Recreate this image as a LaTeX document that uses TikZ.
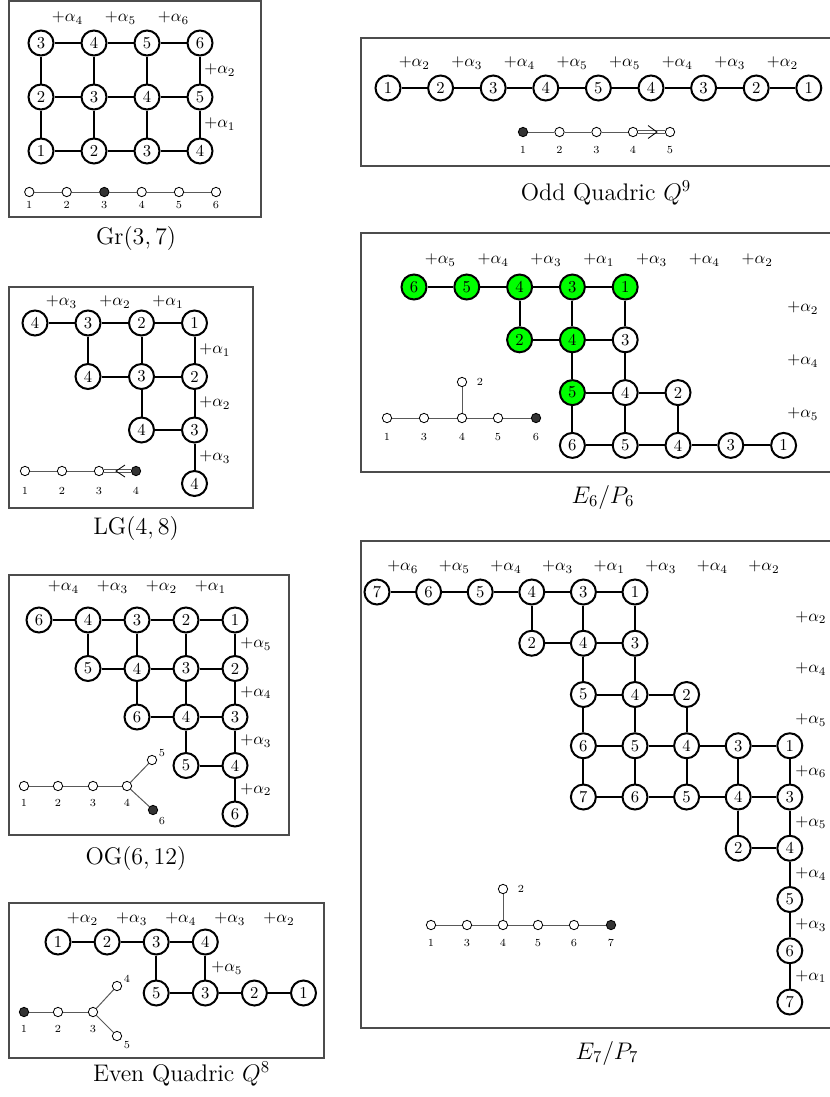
\documentclass[tikz,border=0pt]{standalone}
\usepackage{amsmath}
\begin{document}
\begin{tikzpicture}[x=0.6pt,y=-0.6pt,
 v/.style={circle,draw,line width=1.2pt,minimum size=15pt,inner sep=0pt,fill=white,font=\normalsize},
 vg/.style={v,fill=green},
 ed/.style={line width=1.2pt},
 al/.style={inner sep=0pt,font=\normalsize},
 ral/.style={al,anchor=west},
 dn/.style={circle,draw,line width=0.5pt,minimum size=5.6pt,inner sep=0pt,fill=white},
 dnf/.style={dn,fill=black!80},
 de/.style={line width=0.6pt,draw=black!65},
 dl/.style={inner sep=0pt,font=\fontsize{6.5}{8}\selectfont},
 panelframe/.style={draw=black!70,line width=0.8pt},
 captxt/.style={font=\Large}]
\useasboundingbox (0,0) rectangle (830,1097);
\clip (0,0) rectangle (830,1097);

% ================= Gr(3,7)
\draw[panelframe] (9,1) rectangle (261,217);
\foreach \n/\x/\y/\t in {g11/41/43/3,g12/94/43/4,g13/147/43/5,g14/200/43/6,
  g21/41/97/2,g22/94/97/3,g23/147/97/4,g24/200/97/5,
  g31/41/151/1,g32/94/151/2,g33/147/151/3,g34/200/151/4}
  \node[v] (\n) at (\x,\y) {\t};
\foreach \a/\b in {g11/g12,g12/g13,g13/g14,g21/g22,g22/g23,g23/g24,g31/g32,g32/g33,g33/g34,
  g11/g21,g21/g31,g12/g22,g22/g32,g13/g23,g23/g33,g14/g24,g24/g34}
  \draw[ed] (\a) -- (\b);
\node[al] (ga4) at (67.5,18) {$+\alpha_4$};
\node[al] (ga5) at (120.5,18) {$+\alpha_5$};
\node[al] (ga6) at (173.5,18) {$+\alpha_6$};
\node[ral] (gr2) at (204,70) {$+\alpha_2$};
\node[ral] (gr1) at (204,124) {$+\alpha_1$};
\foreach \n/\x in {1/29.3,2/66.7,3/104.3,4/141.7,5/179,6/216}
  \node[dl] (gl\n) at (\x,205) {\n};
\foreach \n/\x in {1/29.3,2/66.7,4/141.7,5/179,6/216}
  \node[dn] (gd\n) at (\x,192) {};
\node[dnf] (gd3) at (104.3,192) {};
\foreach \a/\b in {1/2,2/3,3/4,4/5,5/6} \draw[de] (gd\a) -- (gd\b);
\node[captxt] (cgr) at (136,238) {$\mathrm{Gr}(3,7)$};

% ================= LG(4,8)
\draw[panelframe] (9,287) rectangle (253,508);
\foreach \n/\x/\y/\t in {l11/35/323/4,l12/88/323/3,l13/141.5/323/2,l14/194.5/323/1,
  l22/88/376.5/4,l23/141.5/376.5/3,l24/194.5/376.5/2,
  l33/141.5/430/4,l34/194.5/430/3,l44/194.5/483.5/4}
  \node[v] (\n) at (\x,\y) {\t};
\foreach \a/\b in {l11/l12,l12/l13,l13/l14,l22/l23,l23/l24,l33/l34,
  l12/l22,l13/l23,l14/l24,l23/l33,l24/l34,l34/l44}
  \draw[ed] (\a) -- (\b);
\node[al] (la3) at (61.5,302) {$+\alpha_3$};
\node[al] (la2) at (115,302) {$+\alpha_2$};
\node[al] (la1) at (168,302) {$+\alpha_1$};
\node[ral] (lr1) at (199,350) {$+\alpha_1$};
\node[ral] (lr2) at (199,403) {$+\alpha_2$};
\node[ral] (lr3) at (199,457) {$+\alpha_3$};
\foreach \n/\x in {1/25,2/62,3/99,4/136}
  \node[dl] (ll\n) at (\x,491) {\n};
\foreach \n/\x in {1/25,2/62,3/99}
  \node[dn] (ld\n) at (\x,471) {};
\node[dnf] (ld4) at (136,471) {};
\draw[de] (ld1) -- (ld2);
\draw[de] (ld2) -- (ld3);
\draw[de,double,double distance=1.2pt] (ld3) -- (ld4);
\draw[line width=0.5pt] (125,465) -- (116,471) -- (125,477);
\node[captxt] (clg) at (136,528) {$\mathrm{LG}(4,8)$};

% ================= OG(6,12)
\draw[panelframe] (9,575) rectangle (289,835);
\foreach \n/\x/\y/\t in {o11/39/620/6,o12/88/620/4,o13/137/620/3,o14/186/620/2,o15/235/620/1,
  o22/88/668.5/5,o23/137/668.5/4,o24/186/668.5/3,o25/235/668.5/2,
  o33/137/717/6,o34/186/717/4,o35/235/717/3,
  o44/186/765.5/5,o45/235/765.5/4,o55/235/814/6}
  \node[v] (\n) at (\x,\y) {\t};
\foreach \a/\b in {o11/o12,o12/o13,o13/o14,o14/o15,o22/o23,o23/o24,o24/o25,o33/o34,o34/o35,o44/o45,
  o12/o22,o13/o23,o14/o24,o15/o25,o23/o33,o24/o34,o25/o35,o34/o44,o35/o45,o45/o55}
  \draw[ed] (\a) -- (\b);
\node[al] (oa4) at (63.5,587) {$+\alpha_4$};
\node[al] (oa3) at (112.5,587) {$+\alpha_3$};
\node[al] (oa2) at (161.5,587) {$+\alpha_2$};
\node[al] (oa1) at (210.5,587) {$+\alpha_1$};
\node[ral] (or5) at (240,644) {$+\alpha_5$};
\node[ral] (or4) at (240,692.5) {$+\alpha_4$};
\node[ral] (or3) at (240,741) {$+\alpha_3$};
\node[ral] (or2) at (240,789.5) {$+\alpha_2$};
\foreach \n/\x in {1/24,2/58,3/93,4/127}
  \node[dl] (ol\n) at (\x,803) {\n};
\node[dl] (ol5) at (162,753) {5};
\node[dl] (ol6) at (162,821) {6};
\foreach \n/\x/\y in {1/24/786,2/58/786,3/93/786,4/127/786,5/152/760}
  \node[dn] (od\n) at (\x,\y) {};
\node[dnf] (od6) at (153,810) {};
\foreach \a/\b in {1/2,2/3,3/4,4/5,4/6} \draw[de] (od\a) -- (od\b);
\node[captxt] (cog) at (136,858) {$\mathrm{OG}(6,12)$};

% ================= Even Quadric
\draw[panelframe] (9,903) rectangle (324,1058);
\foreach \n/\x/\y/\t in {e11/58/942/1,e12/107.1/942/2,e13/156.2/942/3,e14/205.3/942/4,
  e23/156.2/993/5,e24/205.3/993/3,e25/254.4/993/2,e26/303.5/993/1}
  \node[v] (\n) at (\x,\y) {\t};
\foreach \a/\b in {e11/e12,e12/e13,e13/e14,e23/e24,e24/e25,e25/e26,e13/e23,e14/e24}
  \draw[ed] (\a) -- (\b);
\foreach \n/\x/\t in {1/82.5/2,2/131.7/3,3/180.8/4,4/229.9/3,5/279/2}
  \node[al] (ea\n) at (\x,919) {$+\alpha_{\t}$};
\node[ral] (er5) at (211,968) {$+\alpha_5$};
\foreach \n/\x in {1/24,2/58,3/93}
  \node[dl] (ql\n) at (\x,1029) {\n};
\node[dl] (ql4) at (127,979) {4};
\node[dl] (ql5) at (127,1045) {5};
\node[dnf] (qd1) at (24,1012) {};
\foreach \n/\x/\y in {2/58/1012,3/93/1012,4/117/986,5/117/1036}
  \node[dn] (qd\n) at (\x,\y) {};
\foreach \a/\b in {1/2,2/3,3/4,3/5} \draw[de] (qd\a) -- (qd\b);
\node[captxt] (ceq) at (181.5,1074) {Even Quadric $Q^8$};

% ================= Odd Quadric
\draw[panelframe] (361,38) rectangle (845,166);
\foreach \n/\x/\t in {1/388/1,2/440.6/2,3/493.2/3,4/545.8/4,5/598.4/5,6/651/4,7/703.6/3,8/756.2/2,9/808.8/1}
  \node[v] (q\n) at (\x,88) {\t};
\foreach \a/\b in {1/2,2/3,3/4,4/5,5/6,6/7,7/8,8/9} \draw[ed] (q\a) -- (q\b);
\foreach \n/\x/\t in {1/414.3/2,2/466.9/3,3/519.5/4,4/572.1/5,5/624.7/5,6/677.3/4,7/729.9/3,8/782.5/2}
  \node[al] (qa\n) at (\x,63) {$+\alpha_{\t}$};
\foreach \n/\x in {1/523,2/559.5,3/596.5,4/633,5/670}
  \node[dl] (bl\n) at (\x,150) {\n};
\node[dnf] (bd1) at (523,132) {};
\foreach \n/\x in {2/559.5,3/596.5,4/633,5/670}
  \node[dn] (bd\n) at (\x,132) {};
\foreach \a/\b in {1/2,2/3,3/4} \draw[de] (bd\a) -- (bd\b);
\draw[de,double,double distance=1.2pt] (bd4) -- (bd5);
\draw[line width=0.5pt] (648,125.5) -- (657,132) -- (648,138.5);
\node[captxt] (coq) at (606,193) {Odd Quadric $Q^9$};

% ================= E6/P6
\draw[panelframe] (361,233) rectangle (845,472);
\foreach \n/\x/\y/\t/\s in {s11/414/287/6/vg,s12/466.8/287/5/vg,s13/519.6/287/4/vg,s14/572.4/287/3/vg,s15/625.2/287/1/vg,
  s23/519.6/339.8/2/vg,s24/572.4/339.8/4/vg,s25/625.2/339.8/3/v,
  s34/572.4/392.6/5/vg,s35/625.2/392.6/4/v,s36/678/392.6/2/v,
  s44/572.4/445.4/6/v,s45/625.2/445.4/5/v,s46/678/445.4/4/v,s47/730.8/445.4/3/v,s48/783.6/445.4/1/v}
  \node[\s] (\n) at (\x,\y) {\t};
\foreach \a/\b in {s11/s12,s12/s13,s13/s14,s14/s15,s23/s24,s24/s25,s34/s35,s35/s36,
  s44/s45,s45/s46,s46/s47,s47/s48,s13/s23,s14/s24,s15/s25,s24/s34,s25/s35,s34/s44,s35/s45,s36/s46}
  \draw[ed] (\a) -- (\b);
\foreach \n/\x/\t in {1/440.4/5,2/493.2/4,3/546/3,4/598.8/1,5/651.6/3,6/704.4/4,7/757.2/2}
  \node[al] (sa\n) at (\x,260) {$+\alpha_{\t}$};
\node[ral] (sr2) at (787,308) {$+\alpha_2$};
\node[ral] (sr4) at (787,361) {$+\alpha_4$};
\node[ral] (sr5) at (787,414) {$+\alpha_5$};
\foreach \n/\x in {1/387,3/424,4/462,5/498,6/536}
  \node[dl] (xl\n) at (\x,437) {\n};
\node[dl] (xl2) at (480,382) {2};
\foreach \n/\x/\y in {1/387/418,3/424/418,4/462/418,5/498/418,2/462/382}
  \node[dn] (xd\n) at (\x,\y) {};
\node[dnf] (xd6) at (536,418) {};
\foreach \a/\b in {1/3,3/4,4/5,5/6,4/2} \draw[de] (xd\a) -- (xd\b);
\node[captxt] (ce6) at (603,497) {$E_6/P_6$};

% ================= E7/P7
\draw[panelframe] (361,541) rectangle (845,1028);
\foreach \n/\x/\y/\t in {t11/377/592/7,t12/428.6/592/6,t13/480.2/592/5,t14/531.8/592/4,t15/583.4/592/3,t16/635/592/1,
  t24/531.8/643.25/2,t25/583.4/643.25/4,t26/635/643.25/3,
  t35/583.4/694.5/5,t36/635/694.5/4,t37/686.6/694.5/2,
  t45/583.4/745.75/6,t46/635/745.75/5,t47/686.6/745.75/4,t48/738.2/745.75/3,t49/789.8/745.75/1,
  t55/583.4/797/7,t56/635/797/6,t57/686.6/797/5,t58/738.2/797/4,t59/789.8/797/3,
  t68/738.2/848.25/2,t69/789.8/848.25/4,t79/789.8/899.5/5,t89/789.8/950.75/6,t99/789.8/1002/7}
  \node[v] (\n) at (\x,\y) {\t};
\foreach \a/\b in {t11/t12,t12/t13,t13/t14,t14/t15,t15/t16,t24/t25,t25/t26,t35/t36,t36/t37,
  t45/t46,t46/t47,t47/t48,t48/t49,t55/t56,t56/t57,t57/t58,t58/t59,t68/t69,
  t14/t24,t15/t25,t16/t26,t25/t35,t26/t36,t35/t45,t36/t46,t37/t47,
  t45/t55,t46/t56,t47/t57,t48/t58,t49/t59,t58/t68,t59/t69,t69/t79,t79/t89,t89/t99}
  \draw[ed] (\a) -- (\b);
\foreach \n/\x/\t in {1/402.8/6,2/454.4/5,3/506/4,4/557.6/3,5/609.2/1,6/660.8/3,7/712.4/4,8/764/2}
  \node[al] (ta\n) at (\x,567) {$+\alpha_{\t}$};
\foreach \n/\y/\t in {1/617.6/2,2/668.9/4,3/720.1/5,4/771.4/6,5/822.6/5,6/873.9/4,7/925.1/3,8/976.4/1}
  \node[ral] (tr\n) at (795,\y) {$+\alpha_{\t}$};
\foreach \n/\x in {1/431,3/467,4/503,5/538,6/574,7/611}
  \node[dl] (yl\n) at (\x,943) {\n};
\node[dl] (yl2) at (521,889) {2};
\foreach \n/\x/\y in {1/431/925,3/467/925,4/503/925,5/538/925,6/574/925,2/503/889}
  \node[dn] (yd\n) at (\x,\y) {};
\node[dnf] (yd7) at (611,925) {};
\foreach \a/\b in {1/3,3/4,4/5,5/6,6/7,4/2} \draw[de] (yd\a) -- (yd\b);
\node[captxt] (ce7) at (607,1053) {$E_7/P_7$};
\end{tikzpicture}
\end{document}
